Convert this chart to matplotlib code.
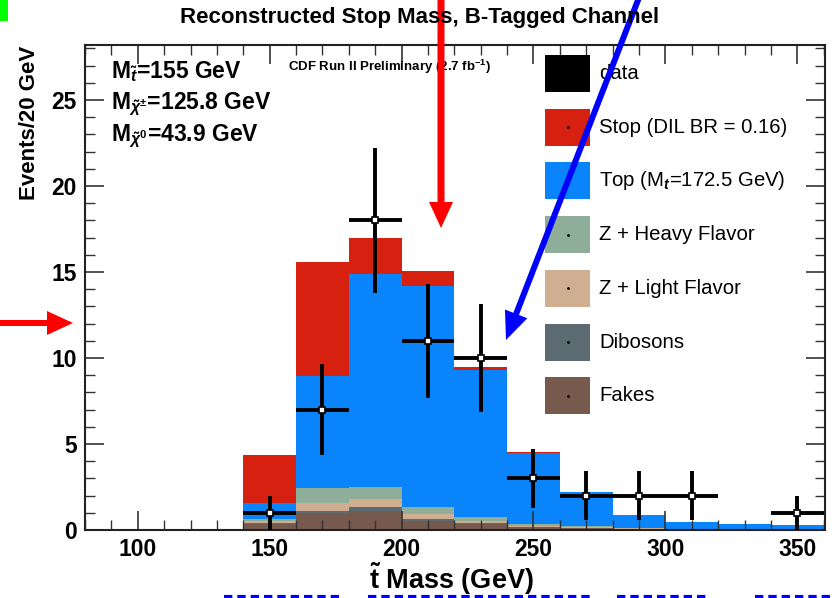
import matplotlib
matplotlib.use("Agg")
import matplotlib.pyplot as plt
from matplotlib.patches import Rectangle, FancyArrow
from matplotlib.ticker import MultipleLocator
import numpy as np

plt.rcParams['font.family'] = ['Liberation Sans', 'DejaVu Sans']
plt.rcParams['mathtext.fontset'] = 'custom'
plt.rcParams['mathtext.rm'] = 'Liberation Sans:bold'
plt.rcParams['mathtext.it'] = 'Liberation Sans:bold:italic'
plt.rcParams['mathtext.bf'] = 'Liberation Sans:bold'

# ---------------- data ----------------
bin_edges = [140, 160, 180, 200, 220, 240, 260, 280, 300, 320, 340, 360]
fakes    = [0.35, 1.00, 1.10, 0.52, 0.35, 0.15, 0.10, 0.05, 0.03, 0.02, 0.02]
dibosons = [0.05, 0.10, 0.24, 0.12, 0.05, 0.03, 0.02, 0.01, 0.01, 0.01, 0.01]
z_lf     = [0.10, 0.47, 0.46, 0.29, 0.12, 0.07, 0.05, 0.03, 0.02, 0.01, 0.01]
z_hf     = [0.14, 0.87, 0.70, 0.41, 0.23, 0.08, 0.05, 0.03, 0.02, 0.01, 0.01]
top      = [0.93, 6.51, 12.40, 12.86, 8.55, 4.12, 1.98, 0.78, 0.37, 0.30, 0.23]
stop     = [2.79, 6.65, 2.10, 0.86, 0.20, 0.10, 0.02, 0.00, 0.00, 0.00, 0.00]

data_x   = [150, 170, 190, 210, 230, 250, 270, 290, 310, 350]
data_y   = [1, 7, 18, 11, 10, 3, 2, 2, 2, 1]
data_err = [1.0, 2.65, 4.24, 3.32, 3.16, 1.73, 1.41, 1.41, 1.41, 1.0]

labels = ["data", "Stop (DIL BR = 0.16)", "Top (M$_{t}$=172.5 GeV)", "Z + Heavy Flavor",
          "Z + Light Flavor", "Dibosons", "Fakes"]
colors = ["#000000", "#d62010", "#0a84fa", "#8fae9a", "#cfae92", "#5c6a72", "#765a4e"]

# ---------------- figure ----------------
W, H = 834, 598
fig = plt.figure(figsize=(W/100, H/100), dpi=100)
ax = fig.add_axes([85/W, 1-530/H, (825-85)/W, (530-45)/H])

edges = np.array(bin_edges)
comps = [fakes, dibosons, z_lf, z_hf, top, stop]
ccols = [colors[6], colors[5], colors[4], colors[3], colors[2], colors[1]]
bottom = np.zeros(len(fakes))
for vals, c in zip(comps, ccols):
    v = np.array(vals)
    ax.bar(edges[:-1], v, width=np.diff(edges), bottom=bottom, align='edge',
           color=c, edgecolor='none', linewidth=0)
    bottom = bottom + v

ax.errorbar(data_x, data_y, xerr=10, yerr=data_err, fmt='s', color='black',
            mfc='white', mec='black', ms=5, mew=1.2, elinewidth=2.8, capsize=0, zorder=5)

ax.set_xlim(80, 360.5)
ax.set_ylim(0, 28.2)
ax.xaxis.set_major_locator(MultipleLocator(50))
ax.xaxis.set_minor_locator(MultipleLocator(10))
ax.yaxis.set_major_locator(MultipleLocator(5))
ax.yaxis.set_minor_locator(MultipleLocator(1))
ax.tick_params(which='both', direction='in', top=True, right=True, color='#333333')
ax.tick_params(which='major', length=14, width=1.2, labelsize=16.5, pad=6)
ax.tick_params(which='minor', length=7, width=1.0)
for lab in ax.get_xticklabels() + ax.get_yticklabels():
    lab.set_fontweight('bold')
for s in ax.spines.values():
    s.set_linewidth(1.5)
    s.set_color('#222222')

fig.text(30/W, 1-46/H, "Events/20 GeV", rotation=90, ha='center', va='top',
         fontsize=16, fontweight='bold')
fig.text(451/W, 1-589/H, r"$\tilde{\mathbf{t}}$ Mass (GeV)", ha='center', va='baseline',
         fontsize=19.5, fontweight='bold')
fig.text(420/W, 1-18/H, "Reconstructed Stop Mass, B-Tagged Channel", ha='center', va='center',
         fontsize=16, fontweight='bold')

# annotation text in axes
def px(x, y):
    return ((x-85)/(825-85), (530-y)/(530-45))

tx = [r"M$_{\tilde{t}}$=155 GeV", r"M$_{\tilde{\chi}^{\pm}}$=125.8 GeV", r"M$_{\tilde{\chi}^{0}}$=43.9 GeV"]
for i, t in enumerate(tx):
    ax.text(*px(111, 72 + 32*i), t, transform=ax.transAxes, fontsize=16.5, fontweight='bold',
            va='center', ha='left')
ax.text(*px(288, 67), r"CDF Run II Preliminary (2.7 fb$^{-1}$)", transform=ax.transAxes,
        fontsize=9.5, fontweight='bold', va='center', ha='left')

# legend (manual)
for i, (lab, c) in enumerate(zip(labels, colors)):
    y0 = 55 + 53.7*i
    x0, y_a = px(545, y0 + 37)
    x1, y_b = px(590, y0)
    ax.add_patch(Rectangle((x0, y_a), x1-x0, y_b-y_a, transform=ax.transAxes,
                           facecolor=c, edgecolor='none', zorder=6))
    if i > 0:
        ax.plot([(x0+x1)/2], [(y_a+y_b)/2], marker='.', ms=2, color='black',
                transform=ax.transAxes, zorder=7)
    ax.text(*px(599, y0 + 18.5), lab, transform=ax.transAxes, fontsize=14.7,
            va='center', ha='left', zorder=7)

# overlay annotations in pixel coordinates
ov = fig.add_axes([0, 0, 1, 1], facecolor='none')
ov.set_xlim(0, W)
ov.set_ylim(H, 0)
ov.axis('off')
ov.add_patch(Rectangle((0, 0), 8, 21, facecolor='#00ff00', edgecolor='none'))
ov.add_patch(FancyArrow(441, 0, 0, 228, width=7, head_width=24, head_length=26,
                        length_includes_head=True, color='#ff0000', lw=0))
ov.add_patch(FancyArrow(0, 323, 73, 0, width=6, head_width=24, head_length=26,
                        length_includes_head=True, color='#ff0000', lw=0))
ov.add_patch(FancyArrow(640, -5, -134, 345, width=6, head_width=24, head_length=28,
                        length_includes_head=True, color='#0000ff', lw=0))
# cut-off blue text fragments at the bottom edge
for xa, xb in [(224, 340), (368, 591), (617, 710), (755, 834)]:
    ov.plot([xa, xb], [596.5, 596.5], color='#0000ff', lw=3, ls=(0, (2, 1.2)),
            solid_capstyle='butt')

fig.savefig("out.png", dpi=100)
